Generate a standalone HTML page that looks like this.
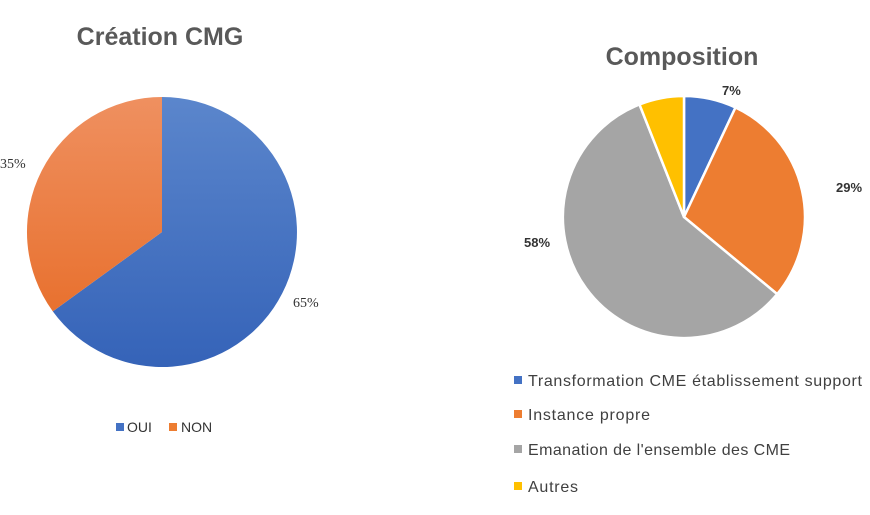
<!DOCTYPE html>
<html><head><meta charset="utf-8"><style>
body{margin:0;background:#fff;}
svg text{font-family:"Liberation Sans",sans-serif;}
</style></head><body>
<svg width="870" height="510" viewBox="0 0 870 510" xmlns="http://www.w3.org/2000/svg">
<defs>
<linearGradient id="gb" x1="0" y1="0" x2="0" y2="1"><stop offset="0" stop-color="#5b86cc"/><stop offset="1" stop-color="#3563b8"/></linearGradient>
<linearGradient id="go" x1="0" y1="0" x2="0" y2="1"><stop offset="0" stop-color="#ef9060"/><stop offset="1" stop-color="#e8712f"/></linearGradient>
</defs>
<text x="160" y="45" text-anchor="middle" font-size="25" font-weight="bold" fill="#595959">Création CMG</text>
<path d="M162,232 L162,97 A135,135 0 1 1 52.8,311.4 Z" fill="url(#gb)"/>
<path d="M162,232 L52.8,311.4 A135,135 0 0 1 162,97 Z" fill="url(#go)"/>
<text x="0" y="168" font-size="14" fill="#333" style="font-family:'Liberation Serif',serif">35%</text>
<text x="293" y="307" font-size="14" fill="#333" style="font-family:'Liberation Serif',serif">65%</text>
<rect x="116" y="423" width="8" height="8" fill="#4472c4"/>
<text x="127" y="432" font-size="14" fill="#333">OUI</text>
<rect x="169" y="423" width="8" height="8" fill="#ed7d31"/>
<text x="181" y="432" font-size="14" fill="#333">NON</text>

<text x="682" y="65" text-anchor="middle" font-size="25" font-weight="bold" fill="#595959">Composition</text>
<g stroke="#fff" stroke-width="2.5" stroke-linejoin="round">
<path d="M684,217 L684,96 A121,121 0 0 1 735.5,107.5 Z" fill="#4472c4"/>
<path d="M684,217 L735.5,107.5 A121,121 0 0 1 777.2,294.1 Z" fill="#ed7d31"/>
<path d="M684,217 L777.2,294.1 A121,121 0 1 1 639.5,104.5 Z" fill="#a5a5a5"/>
<path d="M684,217 L639.5,104.5 A121,121 0 0 1 684,96 Z" fill="#ffc000"/>
</g>
<text x="722" y="95" font-size="13" font-weight="bold" fill="#333">7%</text>
<text x="836" y="192" font-size="13" font-weight="bold" fill="#333">29%</text>
<text x="524" y="247" font-size="13" font-weight="bold" fill="#333">58%</text>
<g font-size="16" fill="#404040">
<rect x="514" y="376" width="8" height="8" fill="#4472c4"/>
<text x="528" y="386" textLength="334" lengthAdjust="spacing">Transformation CME établissement support</text>
<rect x="514" y="410" width="8" height="8" fill="#ed7d31"/>
<text x="528" y="420" textLength="122" lengthAdjust="spacing">Instance propre</text>
<rect x="514" y="445" width="8" height="8" fill="#a5a5a5"/>
<text x="528" y="455" textLength="262" lengthAdjust="spacing">Emanation de l'ensemble des CME</text>
<rect x="514" y="482" width="8" height="8" fill="#ffc000"/>
<text x="528" y="492" textLength="50" lengthAdjust="spacing">Autres</text>
</g>
</svg>
</body></html>
